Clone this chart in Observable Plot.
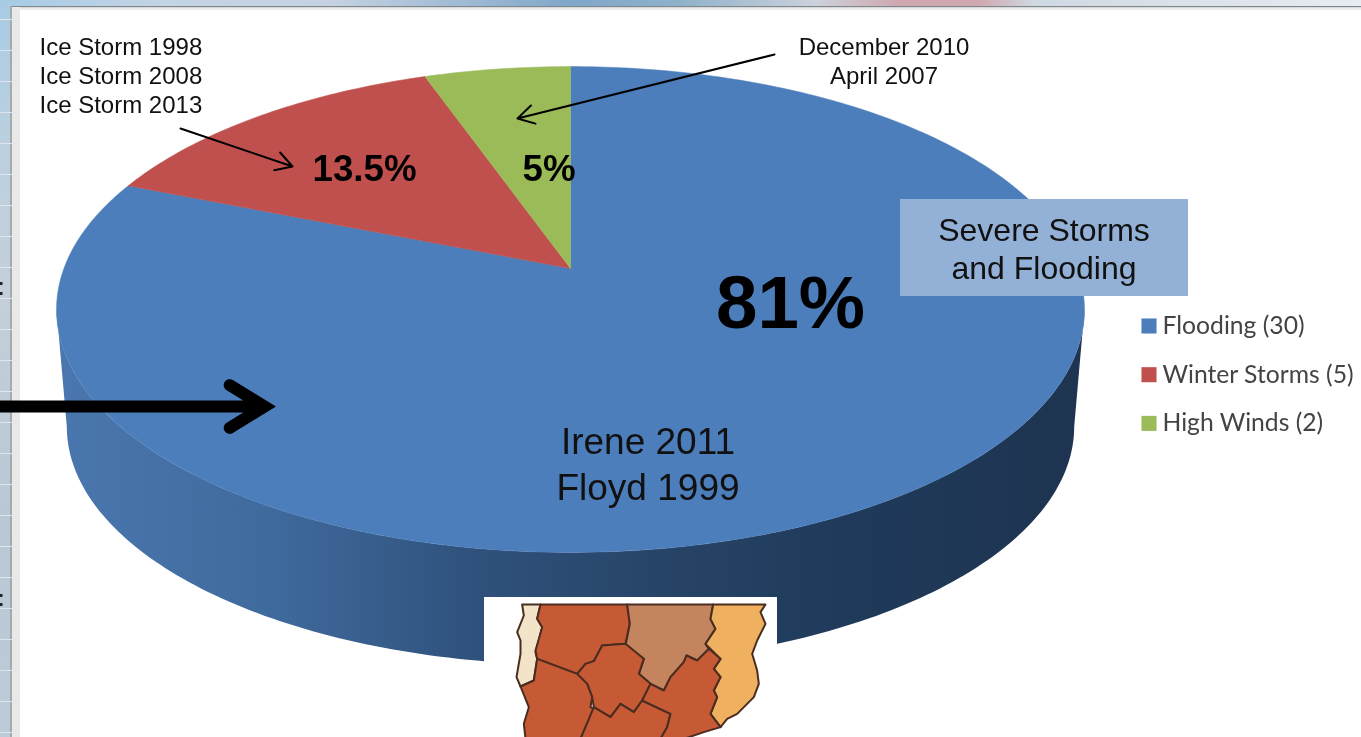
<!DOCTYPE html>
<html>
<head>
<meta charset="utf-8">
<style>
html,body{margin:0;padding:0;background:#fff;overflow:hidden}
svg{display:block;filter:blur(0.4px)}
</style>
<script src="https://cdn.jsdelivr.net/npm/d3@7"></script>
<script src="https://cdn.jsdelivr.net/npm/@observablehq/plot@0.6"></script>
</head>
<body>
<div id="chart"></div>
<script>
// ---- chart values ----
const categories = ["Flooding", "Winter Storms", "High Winds"];
const counts = [30, 5, 2];
const sliceColors = ["#4d7ebc", "#c0504d", "#9bbb59"];
const shareLabels = ["81%", "13.5%", "5%"];
const iceStorms = ["Ice Storm 1998", "Ice Storm 2008", "Ice Storm 2013"];
const windEvents = ["December 2010", "April 2007"];
const hurricanes = ["Irene 2011", "Floyd 1999"];
const calloutLines = ["Severe Storms", "and Flooding"];

// ---- county map, in its own small pixel frame ----
const mapWest = [[155,42],[210,42],[200,85],[215,110],[205,150],[195,185],[200,205],[190,270],[150,288],[138,260],[150,190],[150,150],[140,125],[160,75]];
const mapNorthWest = [[210,42],[470,42],[478,100],[465,160],[395,165],[370,212],[345,220],[320,250],[200,205],[195,180],[215,110],[200,85]];
const mapNorth = [[470,42],[728,42],[720,85],[735,115],[705,160],[715,175],[680,210],[648,195],[640,215],[600,260],[580,300],[540,280],[505,250],[520,205],[465,165],[478,100]];
const mapEast = [[728,42],[885,42],[870,65],[885,100],[860,150],[845,190],[860,240],[865,280],[850,320],[800,370],[770,385],[750,410],[720,370],[740,320],[730,300],[750,260],[730,235],[750,205],[705,160],[735,115],[720,85]];
const mapCentre = [[395,165],[465,160],[520,205],[505,250],[540,280],[515,330],[490,365],[450,340],[420,380],[370,350],[365,320],[350,280],[320,250],[345,220],[370,212]];
const mapSouthWest = [[150,288],[190,270],[200,205],[320,250],[350,280],[365,320],[360,350],[370,355],[345,410],[330,445],[165,445],[160,400],[175,350]];
const mapSouth = [[370,350],[420,380],[450,340],[490,365],[515,330],[600,370],[590,410],[570,445],[330,445],[345,410]];
const mapSouthEast = [[540,280],[580,300],[600,260],[640,215],[648,195],[680,210],[715,175],[750,205],[730,235],[750,260],[730,300],[740,320],[720,370],[750,410],[700,425],[640,445],[570,445],[590,410],[600,370],[515,330]];
const mapShapes = [
  [mapWest, "#f3e3c9"], [mapNorthWest, "#c65a34"], [mapNorth, "#c4855e"], [mapEast, "#efb15f"],
  [mapCentre, "#c65a34"], [mapSouthWest, "#c65a34"], [mapSouth, "#c65a34"], [mapSouthEast, "#c65a34"]
];

// ---- perspective disc: maps a point on the unit circle to the picture ----
const W = 1361, H = 737;
const tilt = 0.1687, radX = 506.6, radY = 236, apex = [570, 268], depth = 118, rimScale = 0.98;
const project = (u, v, scale = 1, drop = 0) => {
  const s = 1 / (1 - tilt * v);
  return {x: apex[0] + scale * radX * u * s, y: apex[1] + drop + scale * radY * v * s};
};
const onCircle = (a, scale, drop) => project(-Math.sin(a), -Math.cos(a), scale, drop); // a runs anticlockwise from top
const sweep = (a0, a1, scale, drop) => {
  const n = Math.max(2, Math.ceil(Math.abs(a1 - a0) * 60));
  return d3.range(n + 1).map(i => onCircle(a0 + (a1 - a0) * i / n, scale, drop));
};

// Slices: the pie starts at 12 o'clock and runs clockwise
const arcs = d3.pie().sort(null).value(d => d)(counts);
const slices = arcs.flatMap((arc, i) => {
  const pts = [{x: apex[0], y: apex[1]}, ...sweep(-arc.startAngle, -arc.endAngle), {x: apex[0], y: apex[1]}];
  return pts.map(p => ({...p, category: categories[i]}));
});

// Front wall: upper rim across the front, back along the lower rim
const frontA = Math.acos(-tilt);
const wall = [
  ...sweep(frontA, 2 * Math.PI - frontA),
  ...sweep(2 * Math.PI - frontA, frontA, rimScale, depth)
];

const legendRows = categories.map((c, i) => ({
  category: c,
  label: `${c} (${counts[i]})`,
  y: 325.5 + i * 48.7
}));

const frameRows = d3.range(0, 24).map(i => 19 + i * 31);
const frameSpecks = [283, 293, 595, 604];
const toMap = ([a, b]) => ({x: a / 3 + 470, y: b / 3 + 590});
const closed = shape => [...shape, shape[0]].map(toMap);

const defs = () => {
  const d = d3.create("svg:defs");
  const grad = (id, x2, y2, stops) => {
    const g = d.append("linearGradient").attr("id", id).attr("gradientUnits", "userSpaceOnUse")
      .attr("x1", 0).attr("y1", 0).attr("x2", x2).attr("y2", y2);
    stops.forEach(([o, c]) => g.append("stop").attr("offset", o).attr("stop-color", c));
  };
  grad("wallShade", W, 0, [[0.04, "#4a77af"], [0.2, "#3f6a9d"], [0.35, "#2f517b"], [0.5, "#264366"], [0.62, "#1f3a5a"], [0.8, "#1e3450"]]);
  grad("topBar", W, 0, [[0, "#a6cbe6"], [0.12, "#c3d4e4"], [0.24, "#c6d2e2"], [0.42, "#7fa7c9"], [0.5, "#8fb2ca"], [0.6, "#cdd1dc"], [0.66, "#cfa8b0"], [0.72, "#cfa8b0"], [0.76, "#cfd9e1"], [1, "#e8ebf2"]]);
  grad("sideBar", 0, H, [[0, "#a8cbe4"], [0.2, "#bcd0e0"], [0.4, "#c4cfd9"], [0.7, "#b8c8d5"], [1, "#bccbd8"]]);
  return d.node();
};

const chart = Plot.plot({
  width: W,
  height: H,
  margin: 0,
  x: {domain: [0, W], range: [0, W], axis: null},
  y: {domain: [0, H], range: [0, H], axis: null},
  color: {type: "ordinal", domain: categories, range: sliceColors},
  style: {background: "#fff"},
  marks: [
    defs,
    // window frame
    Plot.rect([0], {x1: 0, x2: W, y1: 0, y2: 6, fill: "url(#topBar)"}),
    Plot.rect([0], {x1: 8, x2: W, y1: 6, y2: 7.5, fill: "#80888c"}),
    Plot.rect([0], {x1: 12, x2: W, y1: 7.5, y2: 10, fill: "#ececec"}),
    Plot.rect([0], {x1: 0, x2: 10, y1: 0, y2: H, fill: "url(#sideBar)"}),
    Plot.rect([0], {x1: 10, x2: 12, y1: 6, y2: H, fill: "#a8a9a9"}),
    Plot.rect([0], {x1: 12, x2: 20, y1: 7, y2: H, fill: "#e9e9e9"}),
    Plot.ruleY(frameRows, {x1: 0, x2: 20, stroke: "#dfe5ea", strokeWidth: 1}),
    Plot.ruleY(frameSpecks, {x1: 0, x2: 2.5, stroke: "#222", strokeWidth: 3}),

    // pie body
    Plot.line(wall, {x: "x", y: "y", fill: "url(#wallShade)", stroke: "none", curve: "linear"}),
    Plot.line(slices, {x: "x", y: "y", z: "category", fill: "category", stroke: "category", strokeWidth: 0.5, curve: "linear"}),

    // callout box
    Plot.rect([0], {x1: 900, x2: 1188, y1: 199, y2: 296, fill: "#93b1d7"}),
    Plot.text([calloutLines.join("\n")], {x: 1043.5, y: 247, fontSize: 32, lineHeight: 1.2, fontFamily: "Liberation Sans", fill: "#111"}),

    // percentages
    Plot.text([shareLabels[0]], {x: 790, y: 304, fontSize: 74.5, fontWeight: "bold", fontFamily: "Liberation Sans", fill: "#000"}),
    Plot.text([shareLabels[1]], {x: 364, y: 169, fontSize: 36.7, fontWeight: "bold", fontFamily: "Liberation Sans", fill: "#000"}),
    Plot.text([shareLabels[2]], {x: 548.5, y: 169, fontSize: 36.7, fontWeight: "bold", fontFamily: "Liberation Sans", fill: "#000"}),

    // event notes
    Plot.text([iceStorms.join("\n")], {x: 39, y: 74, textAnchor: "start", fontSize: 24, lineHeight: 1.2, fontFamily: "Liberation Sans", fill: "#111"}),
    Plot.text([windEvents.join("\n")], {x: 883.5, y: 59.5, fontSize: 24, lineHeight: 1.2, fontFamily: "Liberation Sans", fill: "#111"}),
    Plot.text([hurricanes.join("\n")], {x: 647.5, y: 462, fontSize: 37, lineHeight: 1.23, fontFamily: "Liberation Sans", fill: "#111"}),

    // arrows
    Plot.arrow([0], {x1: 180, y1: 128, x2: 292, y2: 166, bend: 0, stroke: "#000", strokeWidth: 2, headLength: 14, headAngle: 60}),
    Plot.arrow([0], {x1: 774, y1: 54, x2: 517, y2: 118, bend: 0, stroke: "#000", strokeWidth: 2, headLength: 14, headAngle: 60}),
    Plot.arrow([0], {x1: -5, y1: 406, x2: 264, y2: 406, bend: 0, stroke: "#000", strokeWidth: 12, headLength: 5.1, headAngle: 63, strokeLinejoin: "miter", strokeMiterlimit: 4}),

    // legend
    Plot.dot(legendRows, {x: 1148.5, y: "y", symbol: "square", r: 8.5, fill: "category", stroke: "none"}),
    Plot.text(legendRows, {x: 1162, y: "y", text: "label", textAnchor: "start", fontSize: 24.7, fontFamily: "Lato", fill: "#444"}),

    // county map inset
    Plot.rect([0], {x1: 484, x2: 777, y1: 597, y2: H, fill: "#fff"}),
    ...mapShapes.map(([shape, color]) =>
      Plot.line(closed(shape), {x: "x", y: "y", fill: color, stroke: "#4a2c20", strokeWidth: 2, curve: "linear"}))
  ]
});
document.getElementById("chart").append(chart);
</script>
</body>
</html>
